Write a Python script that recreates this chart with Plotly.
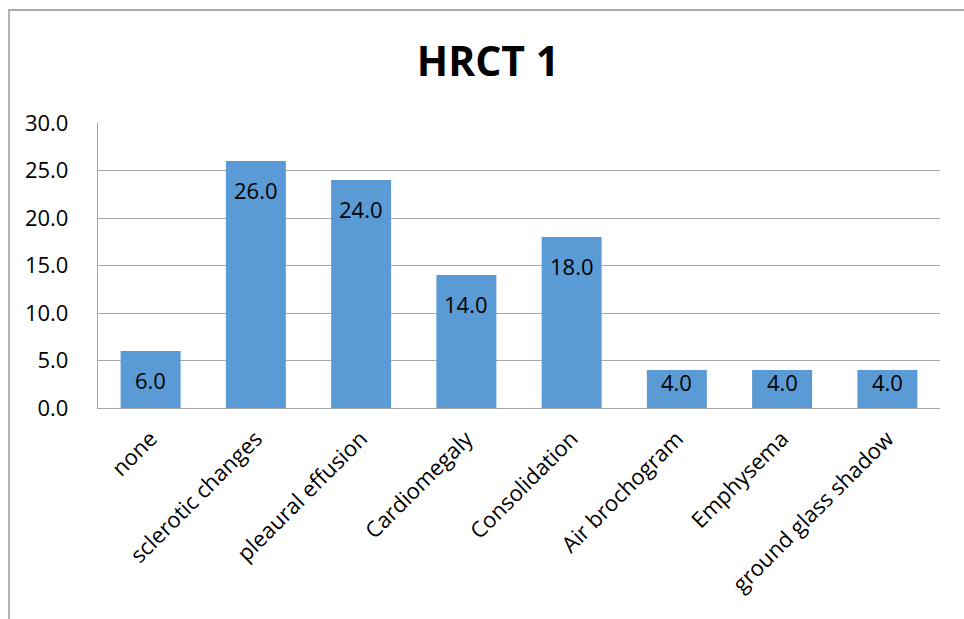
import plotly.graph_objects as go

# HRCT findings (counts)
categories = ["none", "sclerotic changes", "pleaural effusion", "Cardiomegaly",
              "Consolidation", "Air brochogram", "Emphysema", "ground glass shadow"]
values = [6.0, 26.0, 24.0, 14.0, 18.0, 4.0, 4.0, 4.0]
y_ticks = [0, 5, 10, 15, 20, 25, 30]

W, H = 964, 619
ML, MR, MT, MB = 98, 24, 123, 211
plot_h = H - MT - MB
px_per_unit = plot_h / 30.0

FONT = "Open Sans"
FS = 22
BAR = "#5B9BD5"
GRID = "#A6A6A6"

fig = go.Figure(go.Bar(
    x=categories, y=values,
    marker=dict(color=BAR, line=dict(width=0)),
    width=0.57,
    hoverinfo="x+y",
))

# value labels placed just inside the top of each bar
for c, v in zip(categories, values):
    bar_px = v * px_per_unit
    shift = -min(29, bar_px - 26)
    fig.add_annotation(x=c, y=v, text=f"{v:.1f}", showarrow=False,
                       yshift=shift, yanchor="middle",
                       font=dict(family=FONT, size=FS, color="#000000"))

# outer chart border
fig.add_shape(type="rect", xref="paper", yref="paper",
              x0=(9 - ML) / (W - ML - MR), x1=(W + 20 - ML) / (W - ML - MR),
              y0=-(H + 20 - (H - MB)) / plot_h, y1=(H - MB - 10) / plot_h,
              line=dict(color="#8C8C8C", width=1.3), fillcolor="rgba(0,0,0,0)",
              layer="below")

fig.update_layout(
    width=W, height=H,
    margin=dict(l=ML, r=MR, t=MT, b=MB),
    paper_bgcolor="white", plot_bgcolor="white",
    showlegend=False,
    title=dict(text="<b>HRCT 1</b>", x=488 / W, xanchor="center", xref="container",
               y=1 - 62 / H, yanchor="middle", yref="container",
               font=dict(family=FONT, size=41, color="#000000")),
    font=dict(family=FONT, size=FS, color="#000000"),
    xaxis=dict(tickangle=-45, showgrid=False, showline=True, linecolor=GRID,
               linewidth=1.3, ticks="", tickfont=dict(family=FONT, size=FS),
               ticklabelstandoff=8, range=[-0.5, 7.5]),
    yaxis=dict(range=[0, 30], tickvals=y_ticks,
               ticktext=[f"{t:.1f}" for t in y_ticks],
               showgrid=True, gridcolor=GRID, gridwidth=1.3,
               showline=True, linecolor=GRID, linewidth=1.3,
               zeroline=False, ticks="", ticklabelstandoff=24,
               tickfont=dict(family=FONT, size=FS)),
)

fig.write_html("out.html")
